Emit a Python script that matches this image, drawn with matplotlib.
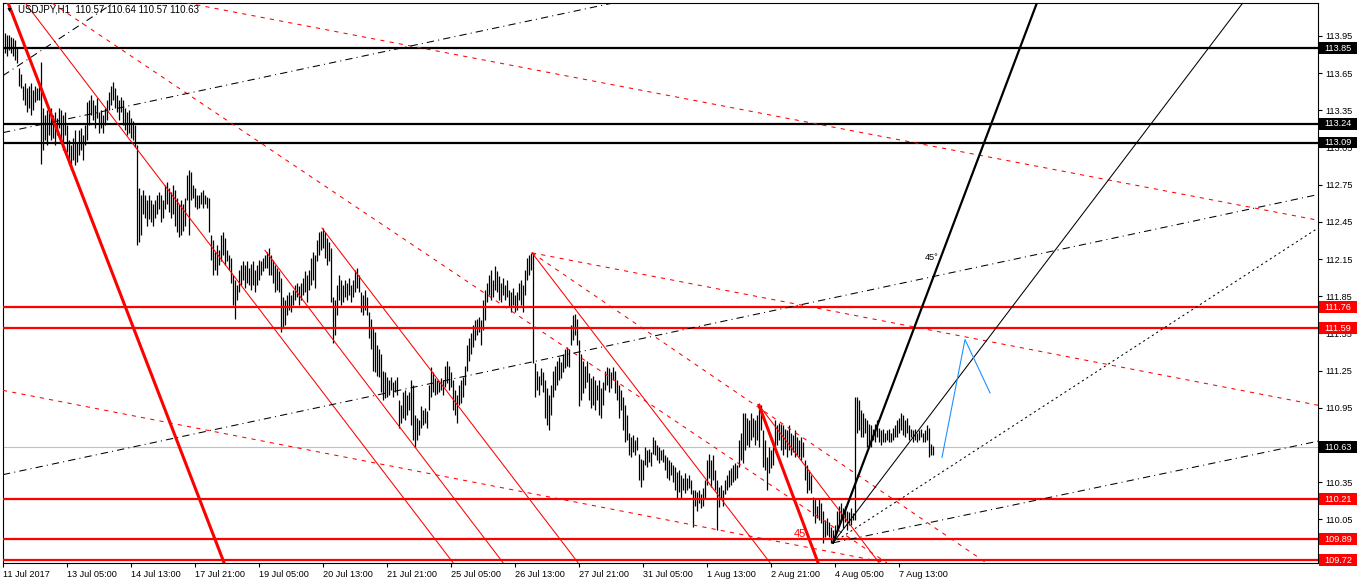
import matplotlib.pyplot as plt
import matplotlib.transforms as mtransforms
from matplotlib.patches import Rectangle

# USDJPY H1 bars, bar index 0 = 11 Jul 22:00
highs = [
    113.97, 113.96, 113.96, 113.94, 113.93, 113.92, 113.85, 113.69, 113.64, 113.55,
    113.57, 113.53, 113.55, 113.57, 113.51, 113.55, 113.53, 113.55, 113.74, 113.37,
    113.31, 113.35, 113.34, 113.37, 113.31, 113.34, 113.29, 113.37, 113.35, 113.31,
    113.34, 113.23, 113.11, 113.07, 113.13, 113.19, 113.09, 113.19, 113.21, 113.15,
    113.23, 113.42, 113.43, 113.47, 113.43, 113.39, 113.45, 113.34, 113.35, 113.31,
    113.37, 113.43, 113.50, 113.55, 113.58, 113.53, 113.47, 113.43, 113.46, 113.43,
    113.37, 113.34, 113.35, 113.29, 113.26, 113.23, 113.07, 112.72, 112.67, 112.71,
    112.67, 112.63, 112.67, 112.63, 112.59, 112.63, 112.67, 112.69, 112.67, 112.63,
    112.75, 112.77, 112.72, 112.69, 112.75, 112.71, 112.64, 112.59, 112.63, 112.59,
    112.64, 112.83, 112.87, 112.85, 112.75, 112.72, 112.67, 112.67, 112.69, 112.71,
    112.67, 112.65, 112.64, 112.34, 112.30, 112.21, 112.26, 112.22, 112.34, 112.37,
    112.32, 112.22, 112.18, 112.16, 112.02, 111.98, 111.94, 112.06, 112.10, 112.13,
    112.10, 112.13, 112.08, 112.11, 112.13, 112.06, 112.10, 112.14, 112.13, 112.16,
    112.18, 112.21, 112.24, 112.18, 112.14, 112.10, 112.08, 112.05, 112.00, 111.84,
    111.82, 111.86, 111.88, 111.86, 111.90, 111.94, 111.96, 111.93, 111.96, 112.00,
    112.05, 112.02, 112.06, 112.16, 112.21, 112.18, 112.30, 112.37, 112.38, 112.40,
    112.37, 112.32, 112.29, 112.24, 111.84, 111.82, 111.94, 112.02, 111.98, 111.94,
    111.98, 111.96, 112.00, 111.94, 111.98, 112.06, 112.08, 112.02, 111.88, 111.86,
    111.90, 111.84, 111.72, 111.67, 111.60, 111.56, 111.46, 111.42, 111.38, 111.25,
    111.24, 111.20, 111.17, 111.20, 111.16, 111.17, 111.20, 111.01, 110.97, 111.08,
    111.09, 111.05, 111.08, 111.17, 111.13, 110.89, 110.87, 110.85, 110.96, 110.93,
    110.95, 110.92, 111.13, 111.28, 111.24, 111.19, 111.17, 111.16, 111.19, 111.17,
    111.29, 111.33, 111.29, 111.24, 111.17, 111.09, 111.05, 111.13, 111.17, 111.20,
    111.29, 111.46, 111.51, 111.55, 111.62, 111.66, 111.67, 111.68, 111.66, 111.82,
    111.90, 111.96, 112.02, 112.06, 111.98, 112.09, 112.05, 112.01, 111.96, 112.00,
    111.94, 111.98, 111.90, 111.88, 111.92, 111.86, 111.88, 111.96, 111.98, 111.94,
    112.06, 112.16, 112.18, 112.20, 112.20, 111.31, 111.25, 111.21, 111.27, 111.24,
    111.17, 111.11, 111.05, 111.13, 111.25, 111.29, 111.33, 111.36, 111.32, 111.38,
    111.42, 111.44, 111.42, 111.62, 111.70, 111.71, 111.67, 111.50, 111.38, 111.33,
    111.29, 111.33, 111.23, 111.19, 111.21, 111.17, 111.13, 111.17, 111.11, 111.16,
    111.25, 111.28, 111.27, 111.24, 111.28, 111.25, 111.17, 111.13, 111.09, 111.04,
    110.97, 110.89, 110.75, 110.71, 110.73, 110.69, 110.71, 110.58, 110.54, 110.53,
    110.63, 110.61, 110.62, 110.59, 110.71, 110.69, 110.65, 110.63, 110.61, 110.62,
    110.57, 110.55, 110.53, 110.51, 110.49, 110.47, 110.43, 110.45, 110.41, 110.38,
    110.42, 110.38, 110.41, 110.37, 110.29, 110.29, 110.27, 110.29, 110.25, 110.30,
    110.37, 110.53, 110.58, 110.53, 110.57, 110.45, 110.37, 110.31, 110.33, 110.29,
    110.37, 110.41, 110.45, 110.46, 110.49, 110.50, 110.49, 110.69, 110.75, 110.91,
    110.91, 110.87, 110.85, 110.91, 110.87, 110.85, 110.89, 110.97, 110.97, 110.77,
    110.69, 110.55, 110.63, 110.61, 110.63, 110.85, 110.81, 110.83, 110.82, 110.81,
    110.78, 110.77, 110.81, 110.75, 110.73, 110.77, 110.71, 110.69, 110.71, 110.67,
    110.53, 110.49, 110.45, 110.41, 110.23, 110.21, 110.16, 110.21, 110.18, 110.12,
    110.04, 110.06, 110.03, 109.99, 109.96, 110.00, 110.12, 110.16, 110.18, 110.14,
    110.16, 110.12, 110.11, 110.14, 110.10, 111.04, 111.04, 111.01, 110.93, 110.91,
    110.87, 110.85, 110.82, 110.81, 110.78, 110.82, 110.85, 110.79, 110.77, 110.78,
    110.75, 110.77, 110.78, 110.75, 110.79, 110.81, 110.85, 110.87, 110.91, 110.89,
    110.85, 110.87, 110.81, 110.78, 110.77, 110.78, 110.75, 110.77, 110.78, 110.75,
    110.77, 110.81, 110.79, 110.66, 110.64,
]
lows = [
    113.81, 113.79, 113.84, 113.81, 113.79, 113.76, 113.73, 113.55, 113.53, 113.43,
    113.39, 113.34, 113.37, 113.31, 113.35, 113.42, 113.43, 113.43, 112.92, 113.03,
    113.11, 113.07, 113.15, 113.11, 113.13, 113.07, 113.15, 113.21, 113.11, 113.03,
    113.15, 113.01, 112.91, 112.87, 112.95, 112.91, 112.93, 112.99, 113.03, 112.95,
    113.07, 113.11, 113.23, 113.31, 113.27, 113.21, 113.29, 113.17, 113.21, 113.17,
    113.23, 113.27, 113.35, 113.39, 113.43, 113.37, 113.34, 113.27, 113.34, 113.23,
    113.19, 113.15, 113.17, 113.13, 113.11, 113.05, 112.26, 112.29, 112.34, 112.51,
    112.48, 112.42, 112.47, 112.45, 112.42, 112.48, 112.51, 112.55, 112.45, 112.48,
    112.55, 112.59, 112.53, 112.48, 112.51, 112.42, 112.37, 112.33, 112.34, 112.38,
    112.42, 112.63, 112.34, 112.63, 112.64, 112.57, 112.55, 112.56, 112.59, 112.56,
    112.59, 112.56, 112.37, 112.14, 112.02, 112.06, 112.02, 112.10, 112.13, 112.18,
    112.10, 112.13, 112.06, 111.96, 111.78, 111.67, 111.82, 111.88, 111.94, 111.98,
    111.92, 111.96, 111.94, 111.90, 111.94, 111.88, 111.94, 111.98, 112.02, 112.05,
    112.08, 112.08, 112.02, 112.02, 111.96, 111.88, 111.90, 111.88, 111.56, 111.60,
    111.62, 111.70, 111.74, 111.72, 111.78, 111.82, 111.84, 111.78, 111.82, 111.86,
    111.88, 111.80, 111.90, 111.94, 111.98, 111.92, 112.13, 112.18, 112.22, 112.24,
    112.16, 112.10, 112.13, 111.80, 111.47, 111.54, 111.70, 111.82, 111.78, 111.80,
    111.84, 111.82, 111.86, 111.80, 111.84, 111.88, 111.92, 111.88, 111.72, 111.70,
    111.74, 111.70, 111.51, 111.42, 111.25, 111.24, 111.21, 111.20, 111.08, 111.01,
    111.03, 111.04, 111.05, 111.09, 111.04, 111.08, 111.05, 110.79, 110.83, 110.87,
    110.85, 110.89, 110.93, 110.81, 110.69, 110.63, 110.69, 110.73, 110.79, 110.81,
    110.83, 110.79, 110.93, 111.04, 111.08, 111.05, 111.06, 111.08, 111.09, 111.05,
    111.12, 111.15, 111.09, 111.12, 110.93, 110.89, 110.83, 110.97, 110.99, 111.04,
    111.13, 111.25, 111.33, 111.38, 111.44, 111.50, 111.54, 111.56, 111.46, 111.58,
    111.66, 111.80, 111.86, 111.82, 111.84, 111.90, 111.88, 111.82, 111.80, 111.86,
    111.82, 111.84, 111.76, 111.72, 111.78, 111.72, 111.74, 111.82, 111.78, 111.72,
    111.86, 111.98, 112.02, 112.06, 111.31, 111.04, 111.09, 111.05, 111.13, 111.08,
    110.87, 110.81, 110.77, 110.89, 111.04, 111.09, 111.13, 111.17, 111.19, 111.24,
    111.27, 111.29, 111.28, 111.46, 111.50, 111.54, 111.46, 110.96, 111.01, 111.07,
    111.11, 111.16, 111.01, 110.95, 110.97, 110.93, 111.01, 110.89, 110.87, 110.97,
    111.09, 111.13, 111.08, 111.11, 111.17, 111.07, 111.01, 110.87, 110.93, 110.77,
    110.67, 110.69, 110.57, 110.55, 110.59, 110.57, 110.61, 110.37, 110.31, 110.37,
    110.49, 110.47, 110.51, 110.48, 110.58, 110.57, 110.53, 110.50, 110.53, 110.51,
    110.45, 110.38, 110.37, 110.41, 110.35, 110.29, 110.22, 110.27, 110.22, 110.29,
    110.26, 110.29, 110.30, 110.25, 109.99, 110.16, 110.12, 110.18, 110.14, 110.16,
    110.21, 110.33, 110.38, 110.31, 110.37, 110.29, 109.96, 110.15, 110.21, 110.16,
    110.25, 110.29, 110.31, 110.33, 110.35, 110.37, 110.38, 110.47, 110.53, 110.50,
    110.61, 110.65, 110.63, 110.69, 110.71, 110.65, 110.69, 110.63, 110.77, 110.47,
    110.45, 110.29, 110.42, 110.46, 110.49, 110.63, 110.65, 110.69, 110.61, 110.57,
    110.62, 110.55, 110.61, 110.57, 110.59, 110.55, 110.57, 110.55, 110.53, 110.55,
    110.37, 110.26, 110.29, 110.26, 110.08, 110.02, 110.06, 110.04, 110.02, 109.86,
    109.91, 109.92, 109.91, 109.86, 109.86, 109.88, 109.96, 110.00, 110.04, 109.98,
    110.03, 109.96, 110.00, 110.00, 110.04, 110.04, 110.75, 110.77, 110.71, 110.71,
    110.75, 110.63, 110.65, 110.63, 110.69, 110.67, 110.71, 110.67, 110.65, 110.67,
    110.67, 110.69, 110.67, 110.67, 110.69, 110.71, 110.71, 110.75, 110.77, 110.73,
    110.71, 110.75, 110.69, 110.71, 110.67, 110.69, 110.67, 110.69, 110.71, 110.67,
    110.67, 110.69, 110.55, 110.57, 110.57,
]

tick_bars = [-1, 31, 63, 95, 127, 159, 191, 223, 255, 287, 319, 351, 383, 415, 447]
tick_labels = ['11 Jul 2017', '13 Jul 05:00', '14 Jul 13:00', '17 Jul 21:00', '19 Jul 05:00',
               '20 Jul 13:00', '21 Jul 21:00', '25 Jul 05:00', '26 Jul 13:00', '27 Jul 21:00',
               '31 Jul 05:00', '1 Aug 13:00', '2 Aug 21:00', '4 Aug 05:00', '7 Aug 13:00']
price_ticks = [109.75, 110.05, 110.35, 110.65, 110.95, 111.25, 111.55, 111.85,
               112.15, 112.45, 112.75, 113.05, 113.35, 113.65, 113.95]

black_levels = [113.85, 113.24, 113.09]
red_levels = [111.76, 111.59, 110.21, 109.89, 109.72]
bid = 110.63

# trendlines: (bar0, price0, bar1, price1)
red_thick = [(1, 114.24, 109.5, 109.70), (377, 110.97, 406.5, 109.70)]
red_thin = [(9, 114.24, 224, 109.70), (130, 112.22, 249, 109.70),
            (158.5, 112.40, 286.5, 109.70), (263.5, 112.20, 382.5, 109.70),
            (377, 110.97, 437, 109.70)]
red_dash = [(91, 114.216, 657.5, 112.46), (23.5, 114.216, 441, 109.697),
            (263.5, 112.20, 656.5, 110.97), (-1, 111.09, 440.5, 109.70),
            (263.5, 112.20, 490.5, 109.70)]
black_dashdot = [(-1, 113.63, 56.5, 114.24), (-1, 113.17, 304, 114.216),
                 (-1, 110.41, 656.5, 112.67), (414, 109.86, 656.5, 110.68)]
fan_thick = (414, 109.86, 516.5, 114.24)
fan_thin = (414, 109.86, 620, 114.24)
fan_dot = (414, 109.86, 656.5, 112.40)

blue_bars = [468.5, 480, 492.5]
blue_prices = [110.55, 111.50, 111.07]

plt.rcParams['font.family'] = ['Liberation Sans', 'DejaVu Sans']
FS = 6.6

fig = plt.figure(figsize=(13.58, 5.84), dpi=100)
ax = fig.add_axes([3 / 1358, 21 / 584, 1315 / 1358, 560 / 584])
ax.set_xlim(-1, 656.5)
ax.set_ylim(109.697, 114.216)

idx = list(range(len(highs)))
ax.vlines(idx, lows, highs, color='black', lw=0.9, zorder=3)

for p in black_levels:
    ax.axhline(p, color='black', lw=1.6, zorder=4)
for p in red_levels:
    ax.axhline(p, color='#ff0000', lw=1.6, zorder=4)
ax.axhline(bid, color='#c0c0c0', lw=0.8, zorder=2)


def seg(s, **kw):
    ax.plot([s[0], s[2]], [s[1], s[3]], **kw)


for s in red_thick:
    seg(s, color='#ff0000', lw=2.2, zorder=5)
for s in red_thin:
    seg(s, color='#ff0000', lw=0.75, zorder=5)
for s in red_dash:
    seg(s, color='#ff0000', lw=0.75, ls=(0, (4, 5)), zorder=5)
for s in black_dashdot:
    seg(s, color='black', lw=0.75, ls=(0, (7, 4, 1, 4)), zorder=5)
seg(fan_thick, color='black', lw=1.6, zorder=5)
seg(fan_thin, color='black', lw=0.75, zorder=5)
seg(fan_dot, color='black', lw=0.75, ls=(0, (2, 3)), zorder=5)
ax.plot(blue_bars, blue_prices, color='#1e90ff', lw=0.8, zorder=5)

ax.text(463.5, 112.16, '45°', fontsize=FS, ha='center', va='center', zorder=6)
ax.text(397.5, 109.93, '45', fontsize=8, color='#ff0000', ha='center', va='center', zorder=6)

# axes style
for sp in ax.spines.values():
    sp.set_color('black')
    sp.set_linewidth(0.8)
ax.yaxis.tick_right()
ax.set_yticks(price_ticks)
ax.set_yticklabels([f'{p:.2f}' for p in price_ticks])
ax.tick_params(axis='y', direction='out', length=3, width=0.8, labelsize=FS, pad=2)
ax.set_xticks(tick_bars)
ax.set_xticklabels(tick_labels)
ax.tick_params(axis='x', direction='out', length=3, width=0.8, labelsize=FS, pad=2)
for lab in ax.get_xticklabels():
    lab.set_horizontalalignment('left')

# price boxes on the right scale
trans = mtransforms.blended_transform_factory(ax.transAxes, ax.transData)
boxes = [(p, 'black') for p in black_levels] + [(p, '#ff0000') for p in red_levels] + [(bid, 'black')]
for p, c in boxes:
    ax.add_patch(Rectangle((1.0008, p - 0.048), 0.0285, 0.096, transform=trans,
                           facecolor=c, edgecolor='none', clip_on=False, zorder=10))
    ax.text(1.0045, p, f'{p:.2f}', transform=trans, color='white', fontsize=FS,
            ha='left', va='center', clip_on=False, zorder=11)

fig.text(6 / 1358, 1 - 10 / 584, '▼', fontsize=5, va='center', ha='left')
fig.text(18 / 1358, 1 - 10 / 584, 'USDJPY,H1  110.57 110.64 110.57 110.63',
         fontsize=7, va='center', ha='left')

fig.savefig('out.png', dpi=100)
